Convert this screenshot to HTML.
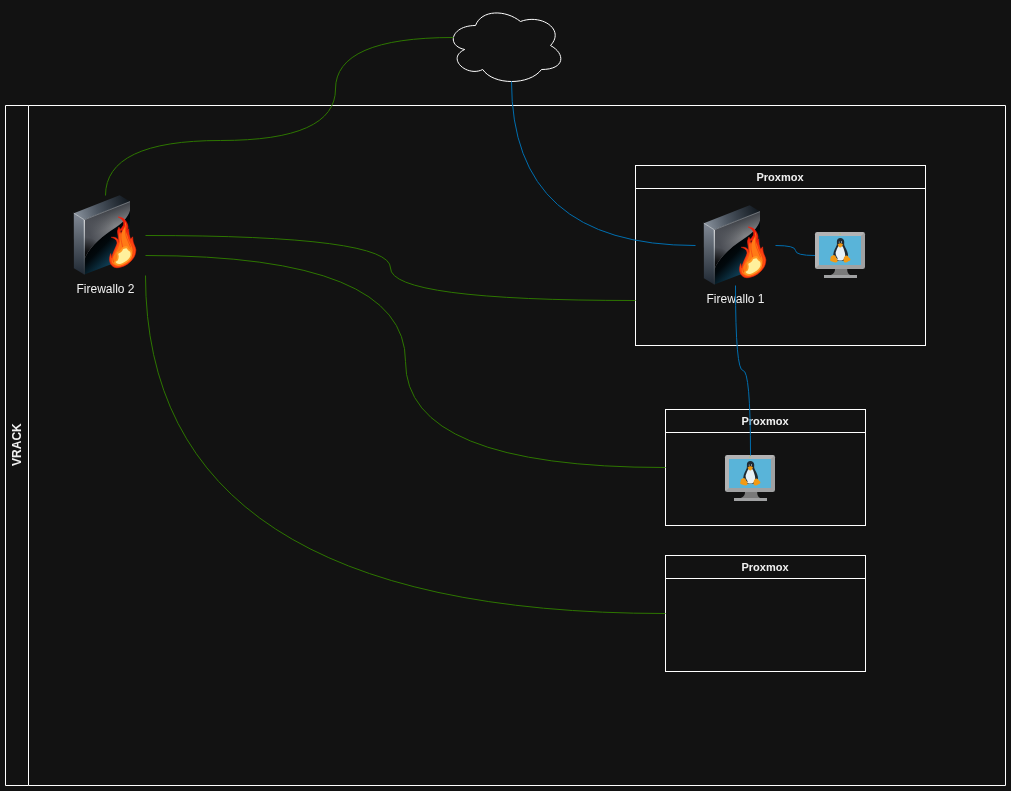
<!DOCTYPE html>
<html>
<head>
<meta charset="utf-8">
<title>VRACK diagram</title>
<style>
html,body{margin:0;padding:0;background:#121212;overflow:hidden;}
body{width:1011px;height:791px;font-family:"Liberation Sans",sans-serif;}
svg{display:block;will-change:transform;}
text{font-family:"Liberation Sans",sans-serif;fill:#f0f0f0;}
.b{font-weight:bold;}
</style>
</head>
<body>
<svg width="1011" height="791" viewBox="0 0 1011 791">
<defs>
<linearGradient id="fwTop" gradientUnits="userSpaceOnUse" x1="12" y1="20" x2="62" y2="4">
 <stop offset="0" stop-color="#848d98"/><stop offset="0.4" stop-color="#4c5560"/><stop offset="1" stop-color="#131a21"/>
</linearGradient>
<linearGradient id="fwSide" gradientUnits="userSpaceOnUse" x1="14" y1="20" x2="14" y2="78">
 <stop offset="0" stop-color="#7e8692"/><stop offset="0.5" stop-color="#505862"/><stop offset="1" stop-color="#222b36"/>
</linearGradient>
<linearGradient id="fwFront" gradientUnits="userSpaceOnUse" x1="30" y1="40" x2="62" y2="72">
 <stop offset="0" stop-color="#000000"/><stop offset="0.3" stop-color="#01080c"/><stop offset="1" stop-color="#1a6a90"/>
</linearGradient>
<linearGradient id="fwGloss" gradientUnits="userSpaceOnUse" x1="42.5" y1="15.5" x2="48.8" y2="31.3">
 <stop offset="0" stop-color="#3e4147"/><stop offset="1" stop-color="#818386"/>
</linearGradient>
<linearGradient id="fwGloss2" gradientUnits="userSpaceOnUse" x1="19.3" y1="24.8" x2="43.5" y2="15.2">
 <stop offset="0" stop-color="#4c4f56" stop-opacity="1"/><stop offset="1" stop-color="#4c4f56" stop-opacity="0"/>
</linearGradient>
<radialGradient id="fwGloss3" gradientUnits="userSpaceOnUse" cx="19.3" cy="65" r="23">
 <stop offset="0" stop-color="#000" stop-opacity="1"/><stop offset="0.35" stop-color="#000" stop-opacity="0.85"/><stop offset="1" stop-color="#000" stop-opacity="0"/>
</radialGradient>
<linearGradient id="fwEdge" gradientUnits="userSpaceOnUse" x1="19" y1="24" x2="19" y2="79">
 <stop offset="0" stop-color="#f2f4f6"/><stop offset="0.3" stop-color="#c4c9ce"/><stop offset="0.6" stop-color="#6d757e"/><stop offset="1" stop-color="#2c333a"/>
</linearGradient>
<radialGradient id="fwFlame" gradientUnits="userSpaceOnUse" cx="58" cy="60" r="30">
 <stop offset="0" stop-color="#ff7214"/><stop offset="0.35" stop-color="#ff5210"/><stop offset="0.7" stop-color="#f6300e"/><stop offset="1" stop-color="#ee1c0c"/>
</radialGradient>
<symbol id="fw" viewBox="0 0 80 80" overflow="visible">
 <!-- top face -->
 <path d="M8.8 18.2 L54.6 0.3 L65 6.6 L19.3 24.8 Z" fill="url(#fwTop)"/>
 <!-- side face -->
 <path d="M8.8 18.2 L19.3 24.8 L19.3 79.4 L8.9 73.2 Z" fill="url(#fwSide)"/>
 <!-- front face -->
 <path d="M19.3 24.8 L65 6.6 L65 62 L19.3 79.4 Z" fill="url(#fwFront)"/>
 <!-- gloss -->
 <path d="M19.3 24.8 L65 6.6 L65 15.5 C63 22 58 28 50 33 C36 42 24 52 19.3 64.5 Z" fill="url(#fwGloss)"/>
 <path d="M19.3 24.8 L65 6.6 L65 15.5 C63 22 58 28 50 33 C36 42 24 52 19.3 64.5 Z" fill="url(#fwGloss2)"/>
 <path d="M19.3 24.8 L65 6.6 L65 15.5 C63 22 58 28 50 33 C36 42 24 52 19.3 64.5 Z" fill="url(#fwGloss3)"/>
 <!-- edges -->
 <path d="M19.3 24.8 L65 6.6" stroke="#9aa1a8" stroke-width="0.7" fill="none" opacity="0.9"/>
 <path d="M8.8 18.2 L19.3 24.8" stroke="#c9ced3" stroke-width="0.8" fill="none"/>
 <path d="M19.3 24.8 L19.3 79.4" stroke="url(#fwEdge)" stroke-width="1" fill="none"/>
 <!-- flame -->
 <path fill="url(#fwFlame)" stroke="#f4240e" stroke-width="0.6" stroke-linejoin="round" d="M53.14 21.94 C53.14 21.94 56.44 22.31 57.92 23.21 C59.40 24.12 60.46 25.49 61.35 26.96 C62.23 28.42 62.63 29.86 62.86 31.34 C63.09 32.81 62.62 35.16 62.62 35.16 C62.62 35.16 63.65 33.88 63.65 33.88 C63.65 33.88 63.93 38.23 64.29 40.10 C64.65 41.96 65.65 44.24 65.65 44.24 C65.65 44.24 67.64 41.85 67.64 41.85 C67.64 41.85 67.83 45.43 68.27 47.27 C68.72 49.10 69.63 50.68 70.11 52.04 C70.58 53.41 70.90 54.83 70.90 54.83 C70.90 54.83 70.64 58.22 69.95 60.01 C69.26 61.80 68.46 63.14 67.08 64.79 C65.70 66.44 64.31 67.85 62.30 69.17 C60.29 70.49 58.08 71.51 55.93 72.12 C53.78 72.72 52.07 72.90 50.35 72.51 C48.63 72.13 47.40 71.21 46.37 69.96 C45.34 68.72 44.88 67.16 44.62 65.58 C44.36 64.01 44.74 62.47 44.94 61.20 C45.14 59.94 45.73 58.58 45.73 58.58 C45.73 58.58 46.77 63.04 46.77 63.04 C46.77 63.04 47.32 60.25 47.96 58.42 C48.61 56.58 49.64 54.56 50.35 52.84 C51.07 51.12 51.73 50.15 51.95 48.86 C52.16 47.57 52.05 46.65 51.55 45.67 C51.05 44.70 50.12 44.04 49.16 43.44 C48.20 42.84 46.21 42.33 46.21 42.33 C46.21 42.33 48.78 42.13 49.96 42.49 C51.13 42.85 52.07 43.46 52.74 44.32 C53.42 45.18 53.70 47.27 53.70 47.27 C53.70 47.27 53.34 42.90 53.14 40.89 C52.94 38.89 52.44 37.69 52.58 36.12 C52.73 34.54 53.94 32.13 53.94 32.13 C53.94 32.13 55.13 34.36 55.13 34.36 C55.13 34.36 56.48 33.11 57.12 32.13 C57.77 31.16 58.67 30.24 58.72 28.95 C58.76 27.66 58.37 26.23 57.36 24.96 C56.36 23.70 53.14 21.94 53.14 21.94 Z"/>
 <ellipse cx="56.3" cy="36.6" rx="0.8" ry="1.3" fill="#5a1408" opacity="0.85"/>
 <path fill="#ff7a16" d="M59.91 26.56 C59.91 26.56 61.17 28.82 61.35 30.54 C61.52 32.26 60.67 34.25 60.87 36.12 C61.07 37.98 61.92 39.17 62.46 40.89 C63.00 42.61 63.21 43.95 63.89 45.67 C64.58 47.39 65.54 48.73 66.28 50.45 C67.03 52.17 67.89 53.44 68.04 55.23 C68.18 57.02 67.83 58.54 67.08 60.41 C66.33 62.27 65.47 63.94 63.89 65.58 C62.32 67.23 60.47 68.63 58.32 69.57 C56.17 70.50 53.81 70.90 51.95 70.76 C50.08 70.62 48.90 69.70 47.96 68.77 C47.03 67.84 46.70 66.87 46.77 65.58 C46.84 64.29 47.57 63.18 48.36 61.60 C49.15 60.02 50.22 58.54 51.15 56.82 C52.08 55.10 52.89 53.76 53.54 52.04 C54.18 50.32 54.59 48.99 54.73 47.27 C54.88 45.55 54.34 44.21 54.34 42.49 C54.34 40.77 54.45 38.28 54.73 37.71 C55.02 37.13 55.93 39.30 55.93 39.30 C55.93 39.30 57.20 36.75 57.92 35.32 C58.64 33.88 59.55 32.91 59.91 31.34 C60.27 29.76 59.91 26.56 59.91 26.56 Z"/>
 <g fill="none" stroke="#f23a10" stroke-width="0.7" stroke-linecap="round" opacity="0.9">
  <path d="M60.6 30 C60.6 35 60.2 38 61.4 42 C62.4 45.5 64.5 48.5 65.6 52"/>
  <path d="M56.2 37.5 C55.6 41 55.8 44 56.6 47.5 C57 49.5 57.6 51 57.8 52.5"/>
  <path d="M63.2 37 C63.4 41 64.6 44 66 47"/>
  <path d="M52 50 C51.5 53 49.5 56 48.2 59.5 C47.4 62 47.6 65 48.6 67"/>
  <path d="M67 50 C68.4 53.5 68.6 57.5 67.4 61"/>
 </g>
 <path fill="#ffa428" opacity="0.75" d="M57.92 52.04 C58.92 51.54 60.83 50.96 61.90 51.25 C62.98 51.53 63.03 52.78 63.89 53.64 C64.75 54.50 66.14 54.74 66.68 56.03 C67.23 57.32 67.35 59.08 66.92 60.81 C66.49 62.53 65.55 64.18 64.29 65.58 C63.03 66.99 61.56 67.72 59.91 68.61 C58.26 69.50 56.71 70.28 55.13 70.52 C53.56 70.77 52.23 70.57 51.15 69.96 C50.08 69.36 49.09 68.14 49.16 67.18 C49.23 66.22 51.02 65.70 51.55 64.63 C52.08 63.55 52.06 62.47 52.11 61.20 C52.15 59.94 51.39 58.55 51.79 57.62 C52.19 56.69 53.52 56.67 54.34 56.03 C55.15 55.38 55.68 54.75 56.33 54.04 C56.97 53.32 56.92 52.55 57.92 52.04 Z"/>
 <path fill="#fff09c" d="M58.32 54.04 C59.11 53.55 61.50 53.32 61.50 53.32 C61.50 53.32 62.44 54.63 63.10 55.23 C63.76 55.83 65.17 56.66 65.17 56.66 C65.17 56.66 65.83 59.06 65.49 60.41 C65.14 61.75 64.33 62.96 63.26 64.15 C62.18 65.34 60.98 66.16 59.51 67.02 C58.05 67.88 56.49 68.64 55.13 68.93 C53.77 69.22 52.76 68.98 51.95 68.61 C51.13 68.24 50.59 66.86 50.59 66.86 C50.59 66.86 52.42 65.89 52.98 64.95 C53.54 64.00 53.67 62.71 53.70 61.60 C53.73 60.50 53.14 58.81 53.14 58.81 C53.14 58.81 54.42 58.28 55.13 57.78 C55.85 57.28 56.55 56.70 57.12 56.03 C57.70 55.35 57.53 54.52 58.32 54.04 Z"/>
</symbol>
<symbol id="mon" viewBox="0 0 50 46" overflow="visible">
 <!-- stand -->
 <path d="M20 37 H32.2 C32.2 41 33.6 42.6 36 43.2 H14.8 C17.6 42.6 20 41 20 37 Z" fill="#7a7a7a"/>
 <!-- base -->
 <rect x="9" y="43" width="33" height="3" fill="#a0a1a2"/>
 <!-- body -->
 <rect x="0" y="0" width="50" height="37" rx="2.2" ry="2.2" fill="#a0a1a2"/>
 <path d="M2.2 0 H47.8 C48.6 0 49.2 0.3 49.6 0.8 L45.8 4 H4 V33 L0.6 36.2 C0.2 35.8 0 35.3 0 34.8 V2.2 C0 1 1 0 2.2 0 Z" fill="#ffffff" opacity="0.2"/>
 <!-- screen -->
 <rect x="4" y="4" width="42" height="29" fill="#59b4d9"/>
 <!-- tux -->
 <g>
  <!-- body black -->
  <path d="M25.3 6.1 C23.3 6.1 21.9 7.6 21.9 9.6 C21.9 11 22.1 12.2 21.6 13.6 C20.6 16 18.6 19 18.3 22.5 C18.1 25 18.9 27.5 20.5 28.8 H30.6 C32.4 27.2 33.3 24.8 32.9 22 C32.5 19 30.4 16.2 29.4 13.6 C28.9 12.2 29.3 11 29.2 9.6 C29 7.5 27.5 6.1 25.3 6.1 Z" fill="#1e2a33"/>
  <!-- belly -->
  <path d="M25.4 13.4 C24 13.4 23.2 14.2 22.6 15.6 C21.6 18 20.3 20.4 20.3 23 C20.3 26.4 22.3 28.6 25.4 28.6 C28.5 28.6 30.3 26.4 30.2 23 C30.1 20.4 29 18 28.2 15.6 C27.7 14.2 26.8 13.4 25.4 13.4 Z" fill="#e8f1f6"/>
  <path d="M20.2 20.5 C20.6 22.5 21.4 24.6 22.8 26.4 L22 27 C20.4 25.4 19.6 23 20.2 20.5 Z" fill="#1e2a33"/>
  <!-- eyes -->
  <ellipse cx="24.2" cy="10.1" rx="0.5" ry="0.7" fill="#c9d4dc"/>
  <ellipse cx="26.5" cy="10.1" rx="0.55" ry="0.75" fill="#c9d4dc"/>
  <!-- beak -->
  <path d="M22.6 12.5 C23.6 11.5 24.6 11.2 25.3 11.2 C26.2 11.2 27.4 11.7 28 12.5 C27.4 13.9 26.4 15.5 25.2 15.5 C24.2 15.5 23.2 13.9 22.6 12.5 Z" fill="#f39a14"/>
  <!-- feet -->
  <path d="M18.2 23.2 C19.2 22.6 20.2 23.6 20.9 25 C21.6 26.4 22.9 27.8 22.6 29.2 C22.3 30.4 20.8 30.6 19.4 30.2 C18 29.8 16.2 29.6 15.4 28.8 C14.8 28.2 15.4 27.4 15.6 26.6 C15.8 25.8 15.4 25 16 24.4 C16.6 23.8 17.4 23.8 18.2 23.2 Z" fill="#f39a14"/>
  <path d="M31.4 23.6 C32.4 23.4 33 24.4 33.6 25.2 C34.2 26 35.4 26.4 35.4 27.4 C35.4 28.4 34 28.8 33 29.4 C32 30 31 30.8 29.8 30.4 C28.6 30 28.4 28.6 28.6 27.2 C28.8 25.8 29.2 24.2 31.4 23.6 Z" fill="#f39a14"/>
 </g>
 <circle cx="25" cy="2" r="0.55" fill="#b8d432"/>
</symbol>

</defs>
<rect x="0" y="0" width="1011" height="791" fill="#121212"/>

<!-- VRACK swimlane -->
<g fill="none" stroke="#ffffff" stroke-width="1">
<path d="M28.5 105.5 L5.5 105.5 L5.5 785.5 L28.5 785.5"/>
<path d="M28.5 105.5 L1005.5 105.5 L1005.5 785.5 L28.5 785.5"/>
<path d="M28.5 105.5 L28.5 785.5"/>
</g>
<text class="b" font-size="12" text-anchor="middle" transform="translate(21,444.6) rotate(-90)">VRACK</text>

<!-- cloud -->
<path transform="translate(445.5,5.5)" fill="#121212" stroke="#ffffff" stroke-width="1"
 d="M30 20 C6 20 0 40 19.2 44 C0 52.8 21.6 72 37.2 64 C48 80 84 80 96 64 C120 64 120 48 105 40 C120 24 96 8 75 16 C60 4 36 4 30 20 Z"/>

<!-- Proxmox 1 -->
<g fill="none" stroke="#ffffff" stroke-width="1">
<rect x="635.5" y="165.5" width="290" height="180"/>
<path d="M635.5 188.5 H925.5"/>
<rect x="665.5" y="409.5" width="200" height="116"/>
<path d="M665.5 432.5 H865.5"/>
<rect x="665.5" y="555.5" width="200" height="116"/>
<path d="M665.5 578.5 H865.5"/>
</g>
<text class="b" font-size="11" text-anchor="middle" x="780" y="181">Proxmox</text>
<text class="b" font-size="11" text-anchor="middle" x="765" y="425">Proxmox</text>
<text class="b" font-size="11" text-anchor="middle" x="765" y="571">Proxmox</text>

<!-- icons -->
<use href="#fw" x="65" y="195" width="80" height="80"/>
<use href="#fw" x="695" y="205" width="80" height="80"/>
<use href="#mon" x="815" y="232" width="50" height="46"/>
<use href="#mon" x="725" y="455" width="50" height="46"/>

<text font-size="12" text-anchor="middle" x="105.5" y="293">Firewallo 2</text>
<text font-size="12" text-anchor="middle" x="735.5" y="303">Firewallo 1</text>
<!-- edges green -->
<g fill="none" stroke="#2d7600" stroke-width="1" transform="translate(0.5,0.5)">
<path d="M453 37 Q335 37 335 88.5 Q335 140 220 140 Q105 140 105 195"/>
<path d="M145 235 Q390 235 390 267.5 Q390 300 635 300"/>
<path d="M145 255 Q405 255 405 361 Q405 467 665 467"/>
<path d="M145 275 Q145 613 665 613"/>
</g>
<!-- edges blue -->
<g fill="none" stroke="#006eaf" stroke-width="1" transform="translate(0.5,0.5)">
<path d="M511 81 Q511 245 695 245"/>
<path d="M775 245 Q795 245 795 250 Q795 255 814.5 255"/>
<path d="M735 285 Q735 370 742.5 370 Q750 370 750 455"/>
</g>

</svg>
</body>
</html>
